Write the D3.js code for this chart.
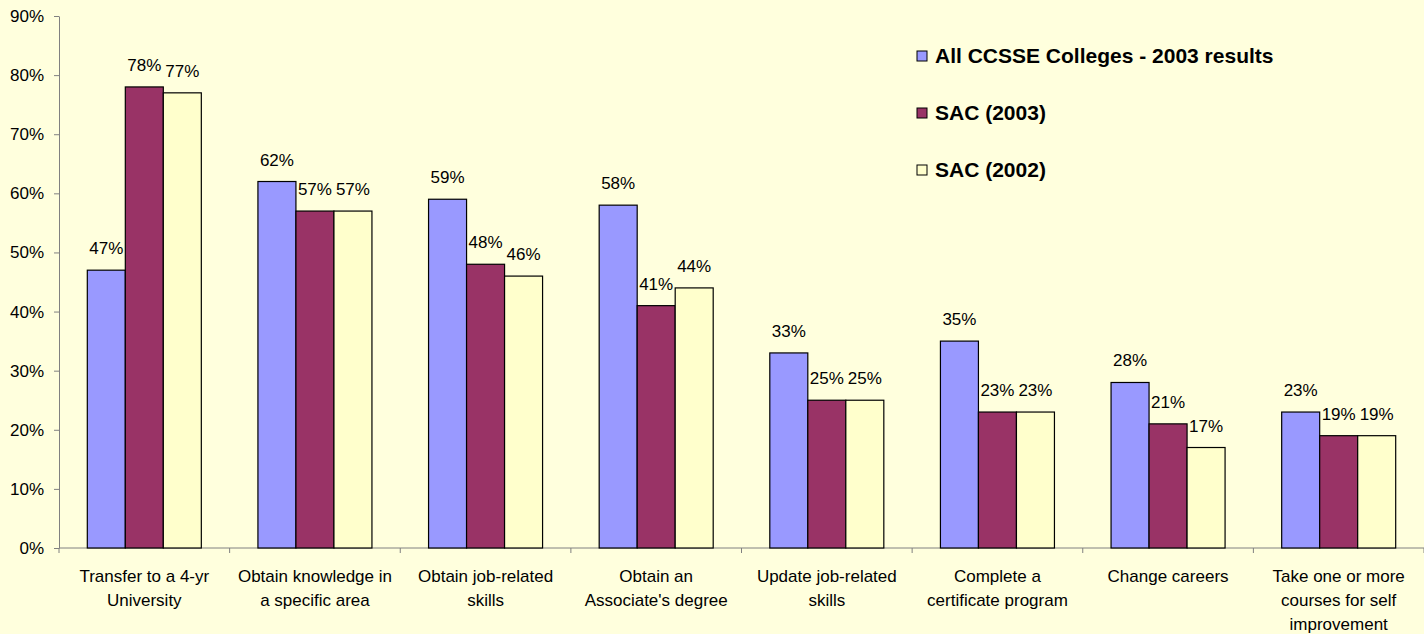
<!DOCTYPE html>
<html><head><meta charset="utf-8">
<script src="https://cdn.jsdelivr.net/npm/d3@7"></script>
<style>
html,body{margin:0;padding:0;background:#FFFFDD;}
svg{display:block;font-family:"Liberation Sans",Arial,sans-serif;}
</style></head>
<body><svg id="c" width="1424" height="634"></svg>
<script>
const categories = [
  "Transfer to a 4-yr\nUniversity",
  "Obtain knowledge in\na specific area",
  "Obtain job-related\nskills",
  "Obtain an\nAssociate's degree",
  "Update job-related\nskills",
  "Complete a\ncertificate program",
  "Change careers",
  "Take one or more\ncourses for self\nimprovement"
];
const seriesNames = ["All CCSSE Colleges - 2003 results", "SAC (2003)", "SAC (2002)"];
const allCCSSE2003 = [47, 62, 59, 58, 33, 35, 28, 23];
const sac2003 = [78, 57, 48, 41, 25, 23, 21, 19];
const sac2002 = [77, 57, 46, 44, 25, 23, 17, 19];
const yTicks = [0, 10, 20, 30, 40, 50, 60, 70, 80, 90];
const colors = ["#9999FF", "#993366", "#FFFFCC"];

(function () {
const series = [allCCSSE2003, sac2003, sac2002];
const svg = d3.select("#c");
const mLeft = 59, mRight = 1424, mTop = 16, mBottom = 548;
const fs = 17;

const x0 = d3.scaleBand().domain(d3.range(categories.length)).range([mLeft, mRight]).paddingInner(0).paddingOuter(0);
const catW = x0.bandwidth();
const groupW = catW * 114 / 170.6;
const x1 = d3.scaleBand().domain(d3.range(series.length)).range([0, groupW]);
const y = d3.scaleLinear().domain([0, 90]).range([mBottom, mTop]);

// y axis
const yAxis = svg.append("g").attr("transform", `translate(${mLeft},0)`)
  .call(d3.axisLeft(y).tickValues(yTicks).tickFormat(d => d + "%").tickSize(5).tickSizeOuter(0));
yAxis.select(".domain").attr("stroke", "#808080");
yAxis.selectAll(".tick line").attr("stroke", "#808080");
yAxis.selectAll(".tick text").attr("font-size", fs).attr("fill", "#000").attr("x", -15)
  .attr("font-family", "Liberation Sans, Arial, sans-serif");

// x axis line and ticks
const xAxisG = svg.append("g");
xAxisG.append("line").attr("x1", mLeft).attr("x2", mRight).attr("y1", mBottom).attr("y2", mBottom).attr("stroke", "#808080");
xAxisG.selectAll("line.tk").data(d3.range(categories.length + 1)).join("line").attr("class", "tk")
  .attr("x1", i => mLeft + i * catW).attr("x2", i => mLeft + i * catW)
  .attr("y1", mBottom).attr("y2", mBottom + 5).attr("stroke", "#808080");

// bars
const groups = svg.append("g").selectAll("g").data(categories).join("g")
  .attr("transform", (d, i) => `translate(${x0(i) + (catW - groupW) / 2},0)`);
series.forEach((s, si) => {
  groups.append("rect")
    .attr("x", x1(si)).attr("width", x1.bandwidth())
    .attr("y", (d, i) => y(s[i])).attr("height", (d, i) => y(0) - y(s[i]))
    .attr("fill", colors[si]).attr("stroke", "#000").attr("stroke-width", 1.2);
  groups.append("text")
    .attr("x", x1(si) + x1.bandwidth() / 2).attr("y", (d, i) => y(s[i]) - 16)
    .attr("text-anchor", "middle").attr("font-size", fs).attr("fill", "#000")
    .text((d, i) => s[i] + "%");
});

// category labels
svg.append("g").selectAll("text").data(categories).join("text")
  .attr("x", (d, i) => x0(i) + catW / 2).attr("y", 582)
  .attr("text-anchor", "middle").attr("font-size", fs).attr("fill", "#000")
  .each(function (d) {
    const t = d3.select(this);
    d.split("\n").forEach((ln, k) => t.append("tspan").attr("x", t.attr("x")).attr("dy", k === 0 ? 0 : 24).text(ln));
  });

// legend
const leg = svg.append("g").attr("transform", "translate(917,56)");
seriesNames.forEach((n, i) => {
  const g = leg.append("g").attr("transform", `translate(0,${i * 57})`);
  g.append("rect").attr("x", 0).attr("y", -5).attr("width", 10).attr("height", 10)
    .attr("fill", colors[i]).attr("stroke", "#000").attr("stroke-width", 1);
  g.append("text").attr("x", 18).attr("y", 7).attr("font-size", 21).attr("font-weight", "bold").attr("fill", "#000").text(n);
});
})();
</script></body></html>
